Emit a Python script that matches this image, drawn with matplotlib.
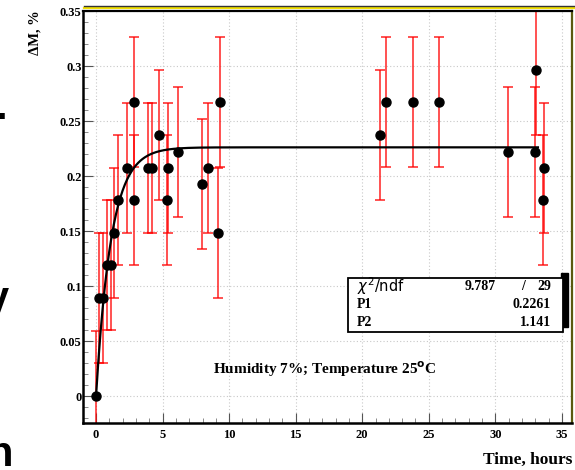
import numpy as np
import matplotlib
matplotlib.use("Agg")
import matplotlib.pyplot as plt
from matplotlib.patches import Rectangle
from matplotlib.lines import Line2D

# ---- data ----
time_h = [0.0, 0.25, 0.5, 0.8, 1.1, 1.38, 1.68, 2.35, 2.83, 2.83, 3.9, 4.2,
          4.7, 5.36, 5.43, 6.19, 7.99, 8.39, 9.17, 9.3, 21.34, 21.79, 23.84,
          25.8, 30.93, 32.98, 33.03, 33.6, 33.66]
delta_m = [0.0, 0.089, 0.089, 0.119, 0.119, 0.148, 0.178, 0.2076, 0.267,
           0.178, 0.2076, 0.2076, 0.237, 0.178, 0.2076, 0.222, 0.193, 0.2076,
           0.148, 0.267, 0.237, 0.267, 0.267, 0.267, 0.222, 0.222, 0.296,
           0.178, 0.2076]
delta_err = [0.059] * len(time_h)

fit_p1 = 0.2261
fit_p2 = 1.141
fit_range = [0.0, 33.2]
chi2 = "9.787"
ndf = "29"

x_ticks = [0, 5, 10, 15, 20, 25, 30, 35]
y_ticks = [0, 0.05, 0.1, 0.15, 0.2, 0.25, 0.3, 0.35]
y_tick_labels = ["0", "0.05", "0.1", "0.15", "0.2", "0.25", "0.3", "0.35"]

W, H = 575, 470
fig = plt.figure(figsize=(W / 100, H / 100), dpi=100)

def fx(px):
    return px / W

def fy(py):
    return 1 - py / H

ax_l, ax_r, ax_t, ax_b = 83, 572, 10.5, 423
ax = fig.add_axes([fx(ax_l), fy(ax_b), fx(ax_r) - fx(ax_l), fy(ax_t) - fy(ax_b)])

serif = ["Liberation Serif", "DejaVu Serif"]

ax.set_xlim(-0.98, 35.76)
ax.set_ylim(-0.0245, 0.3505)

ax.grid(True, which="major", linestyle=(0, (1, 2)), color="#c8c8c8", linewidth=0.8)
ax.set_axisbelow(True)

ax.errorbar(time_h, delta_m, yerr=delta_err, fmt="none", ecolor="red",
            elinewidth=1.2, capsize=3.5, capthick=1.2, alpha=0.8, zorder=2)

xf = np.linspace(fit_range[0], fit_range[1], 600)
ax.plot(xf, fit_p1 * (1 - np.exp(-xf / fit_p2)), color="black", lw=1.6, zorder=3)

ax.plot(time_h, delta_m, "o", color="black", markersize=6.5, zorder=4)

ax.set_xticks(x_ticks)
ax.set_xticklabels([str(v) for v in x_ticks], fontfamily=serif,
                   fontweight="bold", fontsize=9)
ax.set_yticks(y_ticks)
ax.set_yticklabels(y_tick_labels, fontfamily=serif, fontweight="bold", fontsize=9)
ax.set_xticks(np.arange(0, 36, 1), minor=True)
ax.set_yticks(np.arange(-0.02, 0.351, 0.01), minor=True)
ax.tick_params(which="major", direction="in", length=7, width=0.8, color="#555555")
ax.tick_params(which="minor", direction="in", length=3.5, width=0.6, color="#777777")
ax.tick_params(axis="x", which="major", pad=4)
ax.tick_params(axis="y", which="major", pad=1)

for s in ["left", "bottom"]:
    ax.spines[s].set_linewidth(1.8)
    ax.spines[s].set_color("black")
ax.spines["top"].set_linewidth(1.6)
ax.spines["top"].set_color("black")
ax.spines["right"].set_linewidth(1.6)
ax.spines["right"].set_color("#5a5a10")
# yellow stripe and outer dark line of the top border
fig.add_artist(Line2D([fx(ax_l + 1), fx(W)], [fy(7.8), fy(7.8)], color="#f2e000",
                      lw=1.6, zorder=10))
fig.add_artist(Line2D([fx(ax_l + 1), fx(W)], [fy(5.6), fy(5.6)], color="#333333",
                      lw=1.0, zorder=10))

# axis labels
fig.text(fx(35), fy(10), "ΔM, %", rotation=90, ha="center", va="top",
         fontfamily=serif, fontweight="bold", fontsize=10.5)
fig.text(fx(572), fy(460), "Time, hours", ha="right", va="center",
         fontfamily=serif, fontweight="bold", fontsize=12.5)

# annotation
fig.text(fx(213), fy(369), "Humidity 7%; Temperature 25$^{\\mathbf{o}}$C", ha="left",
         va="center", fontfamily=serif, fontweight="bold", fontsize=11)

# stats box with right-hand shadow bar
fig.add_artist(Rectangle((fx(561), fy(327)), fx(568) - fx(561), fy(273) - fy(327),
                         facecolor="black", edgecolor="black", zorder=11))
fig.add_artist(Rectangle((fx(348), fy(331.5)), fx(563) - fx(348), fy(277.5) - fy(331.5),
                         facecolor="white", edgecolor="black", lw=1.3, zorder=12))
fig.text(fx(357), fy(286), "$\\chi^2$/ndf", ha="left", va="center", fontsize=10.5,
         family=["DejaVu Sans"], zorder=13)
stat_kw = dict(fontfamily=serif, fontweight="bold", fontsize=10, zorder=13)
fig.text(fx(465), fy(286), chi2, ha="left", va="center", **stat_kw)
fig.text(fx(523), fy(286), "/", ha="center", va="center", **stat_kw)
fig.text(fx(551), fy(286), ndf, ha="right", va="center", **stat_kw)
fig.text(fx(357), fy(304), "P1", ha="left", va="center", **stat_kw)
fig.text(fx(551), fy(304), f"{fit_p1}", ha="right", va="center", **stat_kw)
fig.text(fx(357), fy(322.5), "P2", ha="left", va="center", **stat_kw)
fig.text(fx(551), fy(322.5), f"{fit_p2}", ha="right", va="center", **stat_kw)

# stray fragments of surrounding page at the left edge (cut off as in the source)
fig.text(fx(-14), fy(300), "y", ha="left", va="center", fontsize=30,
         fontweight="bold", family=["Liberation Sans"])
fig.text(fx(-13), fy(455), "n", ha="left", va="center", fontsize=30,
         fontweight="bold", family=["Liberation Sans"])
fig.text(fx(-5), fy(108), ".", ha="left", va="center", fontsize=30,
         fontweight="bold", family=["Liberation Sans"])

fig.savefig("out.png", dpi=100)
